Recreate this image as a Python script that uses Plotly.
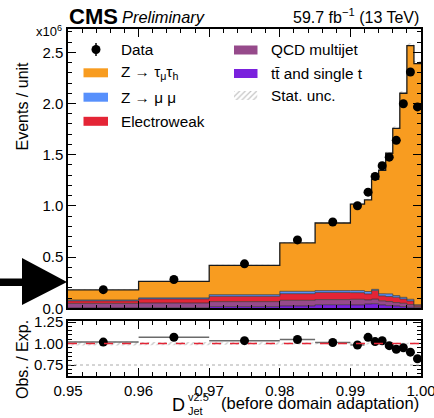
import numpy as np
import plotly.graph_objects as go

# ---------------- data ----------------
edges = [0.95, 0.96, 0.97, 0.98, 0.985, 0.99, 0.992, 0.993, 0.994, 0.995,
         0.996, 0.997, 0.998, 0.999, 1.0]
data_vals = [0.182, 0.281, 0.434, 0.668, 0.843, 1.001, 1.134, 1.288, 1.392,
             1.476, 1.640, 1.997, 2.308, 1.967]
ttbar = [0.003, 0.005, 0.016, 0.023, 0.035, 0.033, 0.042, 0.045, 0.033,
         0.026, 0.023, 0.016, 0.010, 0.005]
qcd = [0.045, 0.047, 0.049, 0.055, 0.050, 0.055, 0.040, 0.045, 0.040,
       0.040, 0.033, 0.033, 0.026, 0.010]
ewk = [0.025, 0.040, 0.052, 0.065, 0.070, 0.065, 0.059, 0.085, 0.049,
       0.049, 0.052, 0.042, 0.036, 0.015]
zmm = [0.008, 0.010, 0.016, 0.023, 0.018, 0.020, 0.023, 0.010, 0.020,
       0.026, 0.016, 0.016, 0.016, 0.005]
ztt = [0.098, 0.160, 0.287, 0.472, 0.660, 0.845, 0.894, 1.075, 1.206,
       1.373, 1.634, 1.993, 2.477, 2.355]
stat_unc = [0.004, 0.005, 0.006, 0.007, 0.008, 0.010, 0.012, 0.013, 0.014,
            0.015, 0.017, 0.020, 0.024, 0.025]

x_tickvals = [0.95, 0.96, 0.97, 0.98, 0.99, 1.00]
ratio_tickvals = [0.75, 1.00, 1.25]

colors = {"tt": "#7a21dd", "qcd": "#964a8b", "ewk": "#e42536",
          "zmm": "#5790fc", "ztt": "#f89c20"}

# ---------------- geometry helpers ----------------
W, H = 434, 418
L, R, T, B = 68, 13, 29, 42
PW, PH = W - L - R, H - T - B


def px(x):
    return (x - L) / PW


def py(y):
    return (H - B - y) / PH


FONT = "Liberation Sans, Arial, sans-serif"

e = np.array(edges)
centers = (e[:-1] + e[1:]) / 2
widths = np.diff(e)
comps = [("tt", ttbar), ("qcd", qcd), ("ewk", ewk), ("zmm", zmm), ("ztt", ztt)]
total = np.sum([np.array(v) for _, v in comps], axis=0)
unc = np.array(stat_unc)
dat = np.array(data_vals)

fig = go.Figure()

# stacked step histograms
cum = np.zeros(len(centers))
for i, (key, vals) in enumerate(comps):
    cum = cum + np.array(vals)
    ys = list(cum) + [cum[-1]]
    top = key == "ztt"
    fig.add_trace(go.Scatter(
        x=edges, y=ys, mode="lines", line_shape="hv",
        line=dict(color="#1a1a1a" if top else "#303030", width=1.3 if top else 0.7),
        fill="tozeroy" if i == 0 else "tonexty", fillcolor=colors[key],
        xaxis="x", yaxis="y", showlegend=False, hoverinfo="skip"))

# stat. unc. hatched band
fig.add_trace(go.Bar(
    x=centers, y=2 * unc, base=total - unc, width=widths,
    marker=dict(color="rgba(0,0,0,0)", line=dict(width=0),
                pattern=dict(shape="/", fgcolor="#8a8a8a", size=4, solidity=0.3)),
    xaxis="x", yaxis="y", showlegend=False, hoverinfo="skip"))

# data
fig.add_trace(go.Scatter(
    x=centers, y=dat, mode="markers",
    marker=dict(color="black", size=9),
    xaxis="x", yaxis="y", showlegend=False, hoverinfo="skip"))

# ratio band
fig.add_trace(go.Bar(
    x=centers, y=2 * unc / total, base=1 - unc / total, width=widths,
    marker=dict(color="rgba(0,0,0,0)", line=dict(width=0),
                pattern=dict(shape="/", fgcolor="#8a8a8a", size=4, solidity=0.3)),
    xaxis="x2", yaxis="y2", showlegend=False, hoverinfo="skip"))

# ratio points
fig.add_trace(go.Scatter(
    x=centers, y=dat / total, mode="markers",
    marker=dict(color="black", size=9),
    error_x=dict(type="data", array=widths / 2, color="#6a6a6a", thickness=1.5, width=0),
    xaxis="x2", yaxis="y2", showlegend=False, hoverinfo="skip"))

# legend swatch for Stat. unc. (hatched) on a hidden mini axis
fig.add_trace(go.Bar(
    x=[0.5], y=[1], width=[1],
    marker=dict(color="rgba(0,0,0,0)", line=dict(width=0),
                pattern=dict(shape="/", fgcolor="#8a8a8a", size=4, solidity=0.3)),
    xaxis="x3", yaxis="y3", showlegend=False, hoverinfo="skip"))

shapes = []
# ratio reference lines
shapes.append(dict(type="line", xref="x2", yref="y2", x0=0.95, x1=1.0, y0=1, y1=1,
                   line=dict(color="#e42536", width=1.5, dash="dash")))
shapes.append(dict(type="line", xref="x2", yref="y2", x0=0.95, x1=1.0, y0=0.75, y1=0.75,
                   line=dict(color="#aaaaaa", width=1, dash="dot")))

# legend swatches
def swatch(x0, x1, yc, color):
    shapes.append(dict(type="rect", xref="paper", yref="paper",
                       x0=px(x0), x1=px(x1), y0=py(yc + 4.5), y1=py(yc - 4.5),
                       fillcolor=color, line=dict(width=0), layer="above"))

swatch(83.5, 108, 72.8, colors["ztt"])
swatch(83.5, 108, 97.2, colors["zmm"])
swatch(83.5, 108, 121.3, colors["ewk"])
swatch(234, 257.5, 50, colors["qcd"])
swatch(234, 257.5, 73.5, colors["tt"])

# data legend marker
shapes.append(dict(type="line", xref="paper", yref="paper",
                   x0=px(96), x1=px(96), y0=py(56), y1=py(43),
                   line=dict(color="black", width=1.5)))
shapes.append(dict(type="circle", xref="paper", yref="paper",
                   x0=px(91.5), x1=px(100.5), y0=py(54), y1=py(45),
                   fillcolor="black", line=dict(width=0)))

# big arrow on the left
pts = [(0, 278.5), (22, 278.5), (22, 258), (67, 282), (22, 305), (22, 286), (0, 286)]
path = "M " + " L ".join(f"{px(a):.5f},{py(b):.5f}" for a, b in pts) + " Z"
shapes.append(dict(type="path", xref="paper", yref="paper", path=path,
                   fillcolor="black", line=dict(width=0)))

ann = []


def text(x, y, s, size, xanchor="left", yanchor="middle", angle=0, **kw):
    ann.append(dict(x=px(x), y=py(y), xref="paper", yref="paper", text=s,
                    showarrow=False, xanchor=xanchor, yanchor=yanchor,
                    textangle=angle, font=dict(family=FONT, size=size, color="black", **kw)))


text(67, 16, "<b>CMS</b>", 22)
text(120, 17, "<i>Preliminary</i>", 16.4)
text(421, 16, "59.7 fb<sup>\u22121</sup> (13 TeV)", 16, xanchor="right")
text(64, 31, "x10<sup>6</sup>", 13, xanchor="right")

text(119, 49.5, "Data", 15.3)
text(119, 72.8, "Z \u2192 \u03c4<sub>\u03bc</sub>\u03c4<sub>h</sub>", 15.3)
text(119, 97.2, "Z \u2192 \u03bc \u03bc", 15.3)
text(119, 121.3, "Electroweak", 15.3)
text(269, 50, "QCD multijet", 15.3)
text(269, 73.5, "t\u0074\u0304 and single t", 15.3)
text(269, 95.5, "Stat. unc.", 15.3)

text(22, 60, "Events / unit", 16, xanchor="center", yanchor="top", angle=-90)
text(22, 360, "Obs. / Exp.", 16, xanchor="center", yanchor="middle", angle=-90)

text(170, 405, "D", 18)
text(186, 397, "v2.5", 11)
text(186, 411, "Jet", 11)
text(421, 403, "(before domain adaptation)", 16.5, xanchor="right")

axis_common = dict(showline=True, linecolor="black", linewidth=1.5, mirror="allticks",
                   ticks="inside", ticklen=8, tickwidth=1, tickcolor="black",
                   showgrid=False, zeroline=False, automargin=False,
                   tickfont=dict(family=FONT, size=15, color="black"))

fig.update_layout(
    width=W, height=H, autosize=False, margin=dict(l=L, r=R, t=T, b=B),
    paper_bgcolor="white", plot_bgcolor="white",
    barmode="overlay", showlegend=False,
    xaxis=dict(domain=[0, 1], range=[0.95, 1.0], anchor="y", matches="x2",
               tickvals=x_tickvals, showticklabels=False,
               minor=dict(dtick=0.002, tick0=0.95, ticklen=4, ticks="inside", tickcolor="black"),
               **axis_common),
    yaxis=dict(domain=[py(308.3), 1], range=[0, 2.7275], anchor="x",
               dtick=0.5, tick0=0, tickformat=".1f",
               minor=dict(dtick=0.1, ticklen=4, ticks="inside", tickcolor="black"),
               **axis_common),
    xaxis2=dict(domain=[0, 1], range=[0.95, 1.0], anchor="y2",
                tickvals=x_tickvals, tickformat=".2f", ticklabeloverflow="allow",
                minor=dict(dtick=0.002, tick0=0.95, ticklen=4, ticks="inside", tickcolor="black"),
                **axis_common),
    yaxis2=dict(domain=[0, py(321)], range=[0.622, 1.262], anchor="x2",
                tickvals=ratio_tickvals, tickformat=".2f",
                minor=dict(dtick=0.05, tick0=0.75, ticklen=4, ticks="inside", tickcolor="black"),
                **axis_common),
    xaxis3=dict(domain=[px(234), px(257.5)], range=[0, 1], anchor="y3",
                visible=False, fixedrange=True),
    yaxis3=dict(domain=[py(100), py(91)], range=[0, 1], anchor="x3",
                visible=False, fixedrange=True),
    shapes=shapes, annotations=ann,
)

fig.write_html("out.html", config={"displayModeBar": False, "responsive": False},
               post_script="document.body.style.margin='0px';document.body.style.overflow='hidden';")
